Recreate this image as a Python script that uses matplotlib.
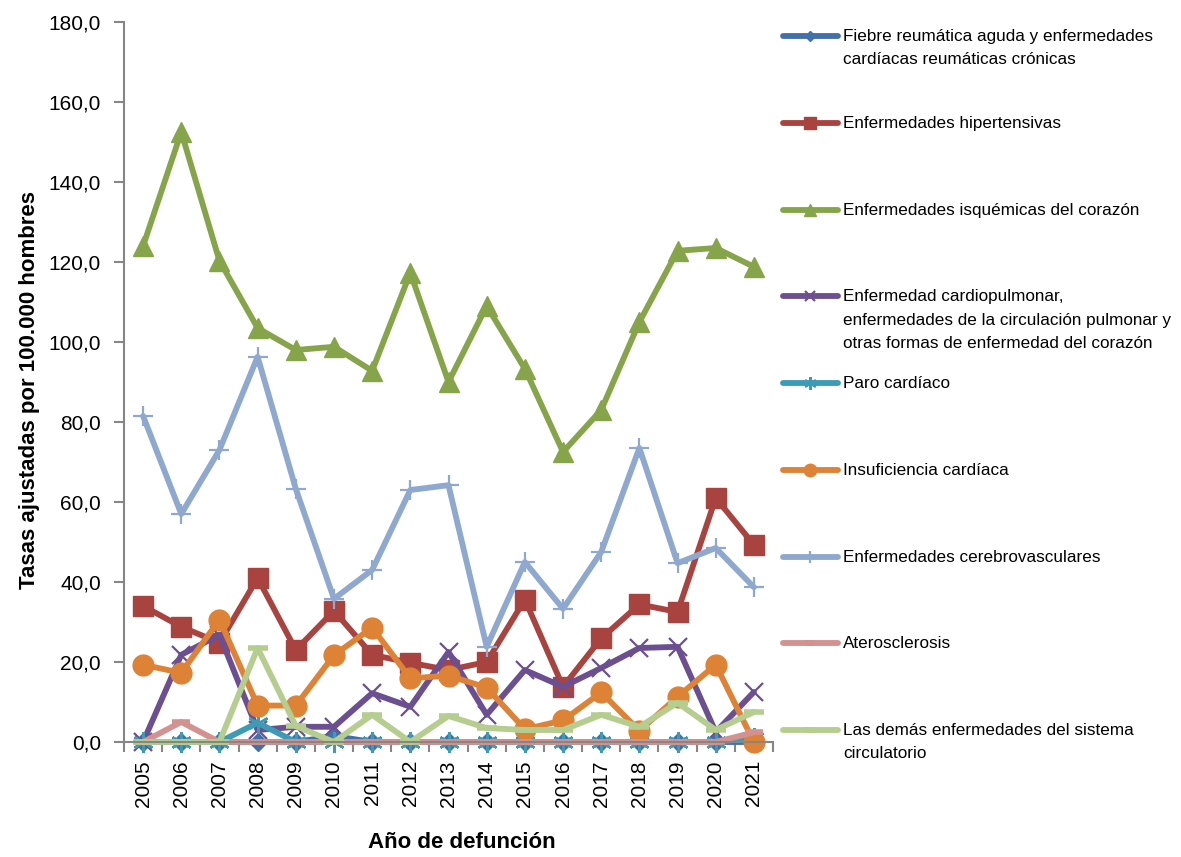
import matplotlib
matplotlib.use("Agg")
import matplotlib.pyplot as plt
from matplotlib.lines import Line2D

plt.rcParams['font.family'] = ['Liberation Sans', 'DejaVu Sans']

years = [str(y) for y in range(2005, 2022)]

fiebre = [0, 0, 0, 0, 0, 1.5, 0, 0, 0, 0, 0, 0, 0, 0, 0, 0, 0]
hipertensivas = [34.0, 28.8, 24.8, 41.0, 23.0, 32.8, 21.8, 19.8, 18.0, 20.0,
                 35.6, 13.8, 25.9, 34.4, 32.5, 61.0, 49.3]
isquemicas = [124.0, 152.5, 120.3, 103.5, 98.0, 98.8, 92.8, 117.3, 90.0, 109.0,
              93.3, 72.5, 83.0, 105.0, 122.8, 123.5, 118.8]
cardiopulmonar = [0.0, 21.8, 26.8, 3.0, 3.8, 3.8, 12.2, 8.8, 22.5, 6.8,
                  18.0, 13.8, 18.5, 23.5, 23.8, 2.5, 12.5]
paro = [0, 0, 0, 4.8, 0, 0, 0, 0, 0, 0, 0, 0, 0, 0, 0, 0, 1.0]
insuficiencia = [19.3, 17.3, 30.6, 9.1, 9.1, 21.7, 28.6, 15.9, 16.6, 13.6,
                 3.2, 5.4, 12.4, 2.8, 11.3, 19.3, 0.0]
cerebrovasculares = [81.5, 57.0, 73.0, 96.3, 63.3, 35.8, 43.0, 63.0, 64.2, 23.8,
                     45.0, 33.3, 47.5, 73.5, 44.7, 48.5, 38.7]
aterosclerosis = [0, 5.0, 0, 0, 0, 0, 0, 0, 0, 0, 0, 0, 0, 0, 0, 0, 2.4]
demas = [0, 0, 0, 23.5, 4.0, 0, 6.8, 0, 6.5, 3.5, 3.0, 3.0, 6.8, 3.8, 9.8, 3.0, 7.5]

labels = [
    "Fiebre reumática aguda y enfermedades\ncardíacas reumáticas crónicas",
    "Enfermedades hipertensivas",
    "Enfermedades isquémicas del corazón",
    "Enfermedad cardiopulmonar,\nenfermedades de la circulación pulmonar y\notras formas de enfermedad del corazón",
    "Paro cardíaco",
    "Insuficiencia cardíaca",
    "Enfermedades cerebrovasculares",
    "Aterosclerosis",
    "Las demás enfermedades del sistema\ncirculatorio",
]
series = [fiebre, hipertensivas, isquemicas, cardiopulmonar, paro,
          insuficiencia, cerebrovasculares, aterosclerosis, demas]
colors = ["#4170AB", "#A9433F", "#86A44A", "#6C4F91", "#3C9CB6",
          "#DE8236", "#8EA8CF", "#D39190", "#B5CD8E"]
asterisk = (6, 2, 0)
# marker, size, edge width
styles = [("D", 9, 1), ("s", 14, 1), ("^", 15, 1), ("x", 13, 1.6), (asterisk, 15, 1.8),
          ("o", 15, 1), ("+", 14, 1.6), ("_", 13, 4), ("_", 14, 4)]

W, H = 1181, 857
fig = plt.figure(figsize=(W / 100, H / 100), dpi=100)
ax = fig.add_axes([124 / W, 1 - 742 / H, (773 - 124) / W, (742 - 22) / H])

x = list(range(len(years)))
for vals, col, (mk, ms, mew) in zip(series, colors, styles):
    ax.plot(x, vals, color=col, lw=4.2, marker=mk, ms=ms, mew=mew,
            mec=col, mfc=col, solid_capstyle="round", solid_joinstyle="round",
            clip_on=False)

ax.set_xlim(-0.5, len(years) - 0.5)
ax.set_ylim(0, 180)
ax.set_yticks(range(0, 181, 20))
ax.set_yticklabels([f"{v:.1f}".replace(".", ",") for v in range(0, 181, 20)], fontsize=15)
ax.set_xticks(x)
ax.set_xticklabels(years, rotation=90, fontsize=15)
ax.set_xticks([i - 0.5 for i in range(len(years) + 1)], minor=True)
ax.tick_params(axis="x", which="major", length=0, pad=13)
ax.tick_params(axis="x", which="minor", length=7, width=1.5, color="#868686", direction="out")
ax.tick_params(axis="y", length=7, width=1.5, color="#868686", pad=9.5)
for s in ["top", "right"]:
    ax.spines[s].set_visible(False)
for s in ["left", "bottom"]:
    ax.spines[s].set_color("#868686")
    ax.spines[s].set_linewidth(1.5)

fig.text(30 / W, 1 - 390 / H, "Tasas ajustadas por 100.000 hombres", rotation=90,
         fontsize=16, fontweight="bold", ha="center", va="center")
fig.text(462 / W, 1 - 843 / H, "Año de defunción", fontsize=16, fontweight="bold",
         ha="center", va="center")

# legend drawn by hand: handles aligned with the first text line
for i, (lab, col, (mk, ms, mew)) in enumerate(zip(labels, colors, styles)):
    yp = 36 + i * 86.75
    yf = 1 - yp / H
    fig.add_artist(Line2D([783 / W, 810 / W, 838 / W], [yf, yf, yf], transform=fig.transFigure,
                          color=col, lw=4.2, marker=mk, ms=ms * 0.6, mew=mew,
                          mec=col, mfc=col, markevery=[1], solid_capstyle="round"))
    fig.text(843 / W, 1 - (yp - 7) / H, lab, fontsize=12.3, ha="left", va="top",
             linespacing=1.7)

fig.savefig("out.png", dpi=100)
